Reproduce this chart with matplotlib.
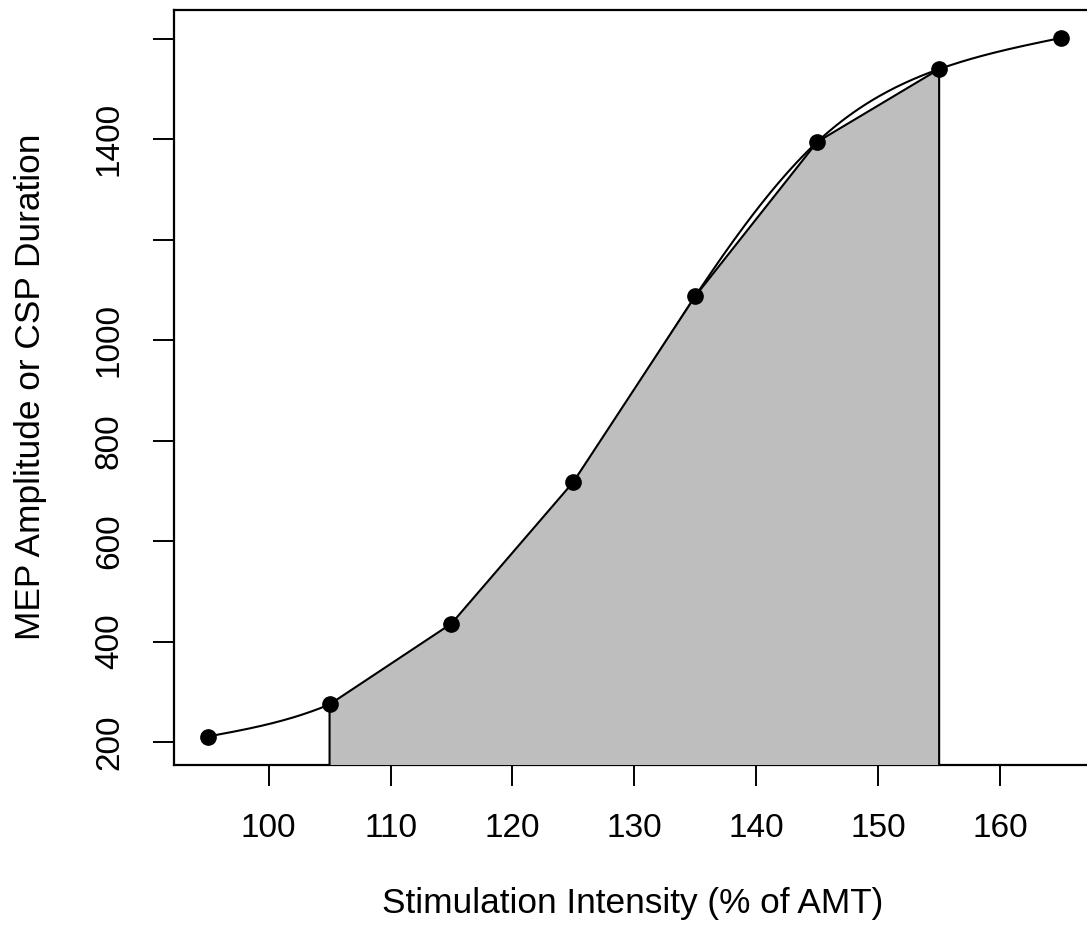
"""Stimulus-response curve with shaded area between 105 and 155 % AMT"""
import numpy as np
import matplotlib
matplotlib.use("Agg")
from matplotlib import pyplot as plt

intensity = [95, 105, 115, 125, 135, 145, 155, 165]
response = [211, 275, 436, 718, 1088, 1395, 1540, 1602]
shade_from, shade_to = 105, 155
x_ticks = [100, 110, 120, 130, 140, 150, 160]
y_ticks = [200, 400, 600, 800, 1000, 1200, 1400, 1600]
y_labels = ["200", "400", "600", "800", "1000", "", "1400", ""]


def natural_spline(x, y, n=400):
    """Natural cubic spline through the points, evaluated on n points"""
    x = np.asarray(x, float)
    y = np.asarray(y, float)
    k = len(x)
    h = np.diff(x)
    A = np.zeros((k, k))
    r = np.zeros(k)
    A[0, 0] = A[-1, -1] = 1
    for i in range(1, k - 1):
        A[i, i - 1] = h[i - 1]
        A[i, i] = 2 * (h[i - 1] + h[i])
        A[i, i + 1] = h[i]
        r[i] = 3 * ((y[i + 1] - y[i]) / h[i] - (y[i] - y[i - 1]) / h[i - 1])
    c = np.linalg.solve(A, r)
    xs = np.linspace(x[0], x[-1], n)
    idx = np.clip(np.searchsorted(x, xs) - 1, 0, k - 2)
    dx = xs - x[idx]
    b = (y[1:] - y[:-1]) / h - h * (2 * c[:-1] + c[1:]) / 3
    d = (c[1:] - c[:-1]) / (3 * h)
    ys = y[idx] + b[idx] * dx + c[idx] * dx ** 2 + d[idx] * dx ** 3
    return xs, ys


plt.rcParams["font.family"] = ["Liberation Sans", "DejaVu Sans"]
plt.rcParams["font.size"] = 24

W, H = 1087, 933
fig = plt.figure(figsize=(W / 100, H / 100), dpi=100)
left, right, bottom, top = 173.5, 1095.2, 764.5, 10
ax = fig.add_axes([left / W, 1 - bottom / H, (right - left) / W, (bottom - top) / H])

# R-style 4% axis expansion
xr = max(intensity) - min(intensity)
yr = max(response) - min(response)
ax.set_xlim(min(intensity) - 0.04 * xr, max(intensity) + 0.04 * xr)
ax.set_ylim(min(response) - 0.04 * yr, max(response) + 0.04 * yr)

# smooth curve first, the shaded polygon is drawn over it
sx, sy = natural_spline(intensity, response)
ax.plot(sx, sy, color="black", linewidth=1.5, zorder=2)

sel = [i for i, v in enumerate(intensity) if shade_from <= v <= shade_to]
px = [shade_from] + [intensity[i] for i in sel] + [shade_to]
py = [0] + [response[i] for i in sel] + [0]
ax.fill(px, py, facecolor="#BEBEBE", edgecolor="black", linewidth=1.5, zorder=2.6)

ax.plot(intensity, response, "o", color="black", markersize=11, zorder=4)

ax.set_xticks(x_ticks)
ax.set_yticks(y_ticks)
ax.set_yticklabels(y_labels, rotation=90, va="center")
ax.tick_params(axis="both", length=15, width=1.4, pad=20, labelsize=24)
for s in ax.spines.values():
    s.set_linewidth(1.6)

fig.text(633 / W, 1 - 913 / H, "Stimulation Intensity (% of AMT)",
         ha="center", va="baseline", fontsize=25.4)
fig.text(40 / W, 1 - 387 / H, "MEP Amplitude or CSP Duration",
         ha="center", va="baseline", rotation=90, fontsize=25.4,
         rotation_mode="anchor")

fig.savefig("out.png", dpi=100)
